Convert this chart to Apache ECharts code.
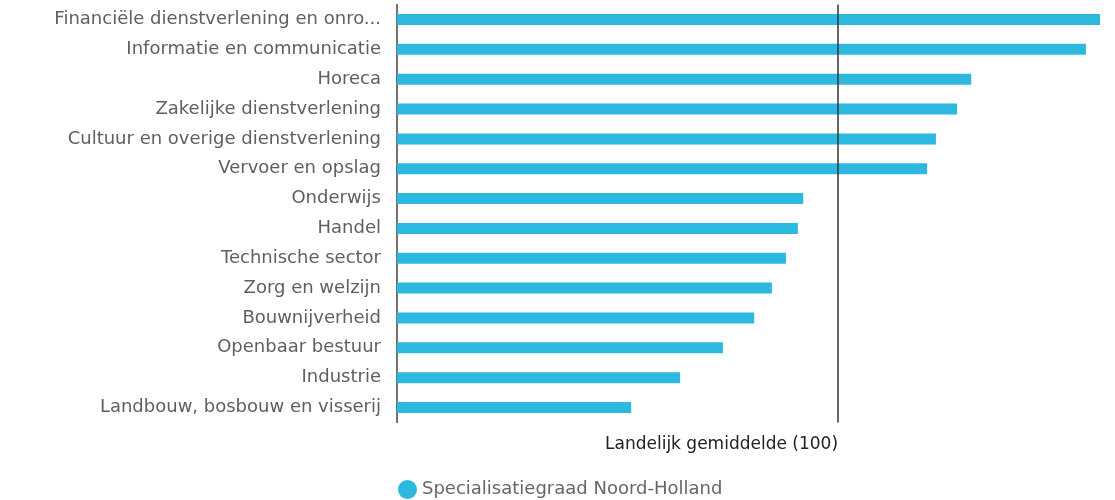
<!DOCTYPE html>
<html>
<head>
<meta charset="utf-8">
<script src="https://cdn.jsdelivr.net/npm/echarts@6/dist/echarts.min.js"></script>
<style>
  html, body { margin: 0; padding: 0; background: #fff; }
  #chart { width: 1115px; height: 500px; }
</style>
</head>
<body>
<div id="chart"></div>
<script>
// sectoren (van boven naar beneden)
var categories = [
  "Financiële dienstverlening en onroerend goed",
  "Informatie en communicatie",
  "Horeca",
  "Zakelijke dienstverlening",
  "Cultuur en overige dienstverlening",
  "Vervoer en opslag",
  "Onderwijs",
  "Handel",
  "Technische sector",
  "Zorg en welzijn",
  "Bouwnijverheid",
  "Openbaar bestuur",
  "Industrie",
  "Landbouw, bosbouw en visserij"
];
// specialisatiegraad, landelijk = 100
var values = [159.4, 156.2, 130.2, 127.0, 122.2, 120.2, 92.1, 90.9, 88.2, 85.0, 81.0, 73.9, 64.2, 53.1];
var average = 100;
var seriesName = "Specialisatiegraad Noord-Holland";
var avgLabel = "Landelijk gemiddelde (100)";

var font = "DejaVu Sans";
var chart = echarts.init(document.getElementById("chart"));

var option = {
  animation: false,
  textStyle: { fontFamily: font },
  grid: {
    left: 397,
    right: 15,
    top: 4.6,
    bottom: 77.6,
    containLabel: false
  },
  legend: {
    left: 393,
    top: 475,
    icon: "circle",
    itemWidth: 19,
    itemHeight: 19,
    itemGap: 8,
    textStyle: { color: "#666", fontSize: 18, fontFamily: font },
    data: [seriesName]
  },
  xAxis: {
    type: "value",
    min: 0,
    max: "dataMax",
    show: false
  },
  yAxis: {
    type: "category",
    inverse: true,
    data: categories,
    axisTick: { show: false },
    axisLine: { lineStyle: { color: "#444", width: 1.5 } },
    axisLabel: {
      color: "#5f5f5f",
      fontSize: 18,
      margin: 16,
      width: 332,
      overflow: "truncate",
      ellipsis: "..."
    }
  },
  series: [{
    name: seriesName,
    type: "bar",
    z: 2,
    data: values,
    barWidth: 11,
    itemStyle: { color: "#2db8df" },
    markLine: {
      silent: true,
      symbol: "none",
      z: 10,
      lineStyle: { color: "#333", type: "solid", width: 1.5 },
      label: {
        show: true,
        position: "end",
        formatter: avgLabel,
        color: "#222",
        fontSize: 17,
        fontFamily: font,
        align: "right",
        distance: 14
      },
      data: [{ xAxis: average }]
    }
  }]
};
chart.setOption(option);
</script>
</body>
</html>
